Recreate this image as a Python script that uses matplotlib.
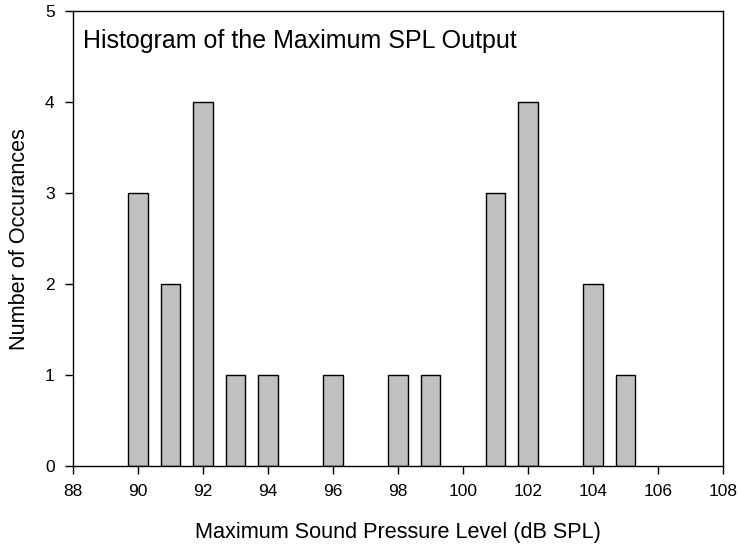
import matplotlib
matplotlib.use("Agg")
import matplotlib.pyplot as plt

plt.rcParams['font.family'] = ['Liberation Sans', 'DejaVu Sans']

# maximum SPL (dB SPL) and how many times each occurred
spl_levels = [90, 91, 92, 93, 94, 96, 98, 99, 101, 102, 104, 105]
occurrences = [3, 2, 4, 1, 1, 1, 1, 1, 3, 4, 2, 1]
x_ticks = [88, 90, 92, 94, 96, 98, 100, 102, 104, 106, 108]
y_ticks = [0, 1, 2, 3, 4, 5]

fig = plt.figure(figsize=(7.39, 5.46), dpi=100)
ax = fig.add_axes([0.0984, 0.1465, 0.880, 0.833])

ax.bar(spl_levels, occurrences, width=0.6, color="#c0c0c0",
       edgecolor="black", linewidth=1.0)

ax.set_xlim(88, 108)
ax.set_ylim(0, 5)
ax.set_xticks(x_ticks)
ax.set_yticks(y_ticks)
ax.tick_params(direction="out", length=6, width=1, labelsize=12.5)
ax.tick_params(axis="y", pad=7)
ax.tick_params(axis="x", pad=7)
for s in ax.spines.values():
    s.set_linewidth(1.0)

ax.set_xlabel("Maximum Sound Pressure Level (dB SPL)", fontsize=15.6, va="center")
ax.xaxis.set_label_coords(0.5, -0.147)
ax.set_ylabel("Number of Occurances", fontsize=15.6, va="center")
ax.yaxis.set_label_coords(-0.082, 0.5)
ax.text(0.016, 0.920, "Histogram of the Maximum SPL Output", transform=ax.transAxes,
        fontsize=18, va="baseline", ha="left")

fig.savefig("out.png", dpi=100)
